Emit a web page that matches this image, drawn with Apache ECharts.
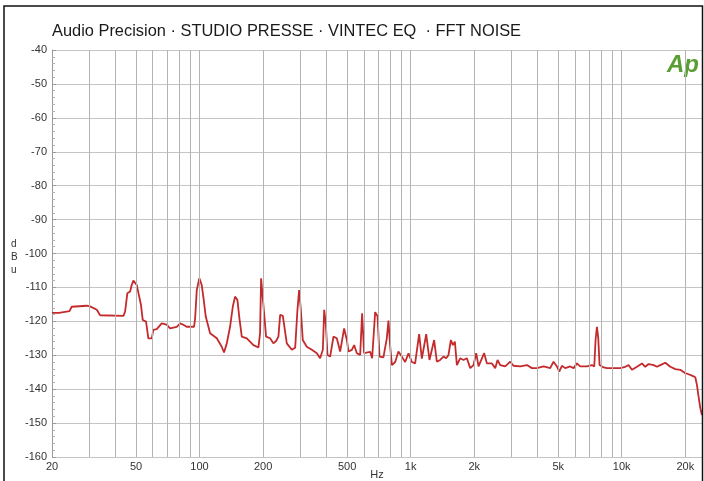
<!DOCTYPE html>
<html><head><meta charset="utf-8">
<script src="https://cdn.jsdelivr.net/npm/echarts@6/dist/echarts.min.js"></script>
<style>html,body{margin:0;padding:0;background:#fff}#c{width:704px;height:481px}</style>
</head><body><div id="c"></div>
<script>
const titleText = 'Audio Precision · STUDIO PRESSE · VINTEC EQ  · FFT NOISE';
const freqHz = [20,21.6,21.9,24.2,24.8,29.2,30.3,32.6,33.8,43.6,44.4,45.5,46.9,47.7,48.6,49.5,50.4,51.0,51.9,52.8,53.8,55.8,57.2,59.4,60.4,62.7,66.2,69.9,72.5,78.0,80.9,83.8,86.9,94.2,95.3,97.0,99.8,102.4,104.2,107.0,112.2,120.7,127.4,130.6,134.6,139.5,143.7,147.3,151.1,154.5,158.5,167.4,180.0,190.1,193.5,195.7,199.3,202.2,206.6,215.9,223.8,230.5,236.4,240.9,248.0,252.4,259.0,273.5,283.8,290.9,296.3,301.9,308.3,322.1,340.3,359.5,372.5,383.7,389.5,396.7,403.7,415.6,430.9,446.9,463.4,484.2,498.6,507.6,526.6,540,556,576.6,589,602,643,657,679,697,712,743,757,771,785,800,815,845,875,908,942,977,1013,1050,1097,1130,1185,1228,1292,1331,1380,1430,1473,1511,1551,1585,1620,1656,1716,1779,1847,1915,1985,2045,2097,2176,2230,2297,2427,2516,2580,2656,2806,2962,3071,3304,3555,3754,3965,4263,4583,4753,4931,5058,5207,5398,5700,5913,6135,6358,6842,7225,7410,7517,7630,7740,7852,8204,8514,9149,9845,10390,10770,11180,11810,12470,12920,13400,14160,14690,15220,16080,16990,17940,18940,20000,20730,21520,22310,22720,23120,23560,23980];
const levelDb = [-117.5,-117.5,-117.1,-117.0,-115.7,-115.4,-115.6,-116.6,-118.2,-118.4,-117.1,-111.7,-111.2,-109.3,-108.0,-108.3,-109.3,-110.8,-110.8,-115.2,-119.6,-120.1,-125.0,-125.0,-122.5,-122.3,-120.6,-121.0,-122.1,-121.6,-120.6,-121.0,-121.6,-121.6,-119.1,-110.8,-107.3,-109.3,-112.7,-118.6,-123.5,-125.0,-127.5,-129.2,-126.5,-121.6,-115.7,-112.7,-113.7,-119.1,-124.5,-125.0,-127.0,-127.7,-123.5,-107.3,-107.6,-117.6,-124.5,-125.0,-126.5,-125.8,-124.5,-118.1,-118.4,-121.6,-126.5,-128.4,-127.8,-116.6,-110.8,-116.6,-125.5,-127.5,-128.4,-129.4,-130.9,-128.4,-116.6,-121.0,-129.9,-130.4,-124.5,-125.0,-128.9,-122.1,-125.5,-128.9,-128.4,-127.0,-129.4,-129.9,-117.6,-129.4,-129.0,-130.9,-117.3,-118.5,-130.4,-130.6,-131.0,-125.0,-119.8,-127.4,-132.9,-132.0,-128.9,-130.4,-132.0,-129.4,-132.0,-132.4,-123.8,-131.0,-123.8,-131.4,-125.5,-131.9,-131.4,-130.4,-130.9,-129.9,-125.5,-127.0,-126.0,-132.9,-130.9,-131.4,-130.9,-133.8,-132.9,-129.4,-133.3,-130.9,-129.4,-132.4,-132.4,-133.8,-131.4,-132.9,-133.3,-131.9,-133.1,-133.3,-132.9,-133.8,-133.8,-133.3,-133.8,-131.9,-133.3,-134.8,-133.1,-133.8,-133.3,-133.8,-132.4,-133.3,-133.3,-132.9,-133.3,-125.5,-121.6,-124.9,-132.9,-133.6,-133.8,-133.8,-133.8,-133.4,-132.9,-134.3,-133.4,-132.4,-133.4,-132.6,-132.9,-133.4,-132.9,-132.2,-133.4,-134.1,-134.3,-135.3,-135.6,-136.0,-136.5,-138.8,-142.2,-145.6,-147.6];
const xLabelValues = [20,50,100,200,500,1000,2000,5000,10000,20000];
const xLabelText = ['20','50','100','200','500','1k','2k','5k','10k','20k'];
const xGridValues = [30,40,50,60,70,80,90,100,200,300,400,500,600,700,800,900,1000,2000,3000,4000,5000,6000,7000,8000,9000,10000,20000];

const labelFor = v => {
  let best = 0, bd = Infinity;
  xLabelValues.forEach((lv, i) => { const d = Math.abs(Math.log(v / lv)); if (d < bd) { bd = d; best = i; } });
  return xLabelText[best];
};

const chart = echarts.init(document.getElementById('c'), null, {renderer: 'canvas'});
chart.setOption({
  animation: false,
  backgroundColor: '#fff',
  title: {
    text: titleText, left: 52, top: 23, padding: 0,
    textStyle: {fontFamily: 'Liberation Sans', fontSize: 16.4, fontWeight: 'normal', color: '#1a1a1a'}
  },
  grid: {left: 52, right: 2, top: 50, bottom: 24, outerBoundsMode: 'none', containLabel: false},
  xAxis: {
    type: 'log', logBase: 10, min: 20, max: 24000,
    name: 'Hz', nameLocation: 'middle', nameGap: 12, nameMoveOverlap: false,
    nameTextStyle: {fontFamily: 'Liberation Sans', fontSize: 11, color: '#333', verticalAlign: 'top'},
    axisLine: {show: false}, axisTick: {show: false},
    splitLine: {show: false}, minorSplitLine: {show: false},
    axisLabel: {
      customValues: xLabelValues, formatter: v => labelFor(v), margin: 4,
      fontFamily: 'Liberation Sans', fontSize: 11, color: '#333'
    }
  },
  yAxis: {
    type: 'value', min: -160, max: -40, interval: 10,
    axisLine: {show: true, lineStyle: {color: '#9a9a9a', width: 1}},
    axisTick: {show: true, inside: true, length: 4, lineStyle: {color: '#9a9a9a'}},
    minorTick: {show: true, splitNumber: 5, length: 3, lineStyle: {color: '#b0b0b0'}},
    splitLine: {show: true, lineStyle: {color: '#c4c4c4', width: 1}},
    axisLabel: {margin: 5, fontFamily: 'Liberation Sans', fontSize: 11, color: '#333'}
  },
  graphic: [
    {type: 'text', left: 11, top: 238, style: {text: 'd\nB\nu', font: '10px Liberation Sans', fill: '#333', lineHeight: 13, align: 'center'}},
    {type: 'text', left: 667, top: 53, style: {text: 'Ap', font: 'italic bold 24px Liberation Sans', fill: '#5a9e33'}},
    {type: 'rect', shape: {x: 4, y: 6, width: 698.5, height: 480}, style: {fill: null, stroke: '#111', lineWidth: 1.5}, z: 100, silent: true}
  ],
  series: [
    {
      type: 'line', data: [], silent: true, z: 1,
      markLine: {
        silent: true, symbol: ['none', 'none'], label: {show: false}, animation: false,
        lineStyle: {color: '#b4b4b4', width: 1, type: 'solid'},
        emphasis: {disabled: true},
        data: xGridValues.map(v => ({xAxis: v}))
      }
    },
    {
      type: 'line', z: 3, showSymbol: false, symbol: 'none', silent: true,
      data: freqHz.map((f, i) => [f, levelDb[i]]),
      lineStyle: {color: '#c42a2c', width: 1.8}
    }
  ]
});
</script>
</body></html>
